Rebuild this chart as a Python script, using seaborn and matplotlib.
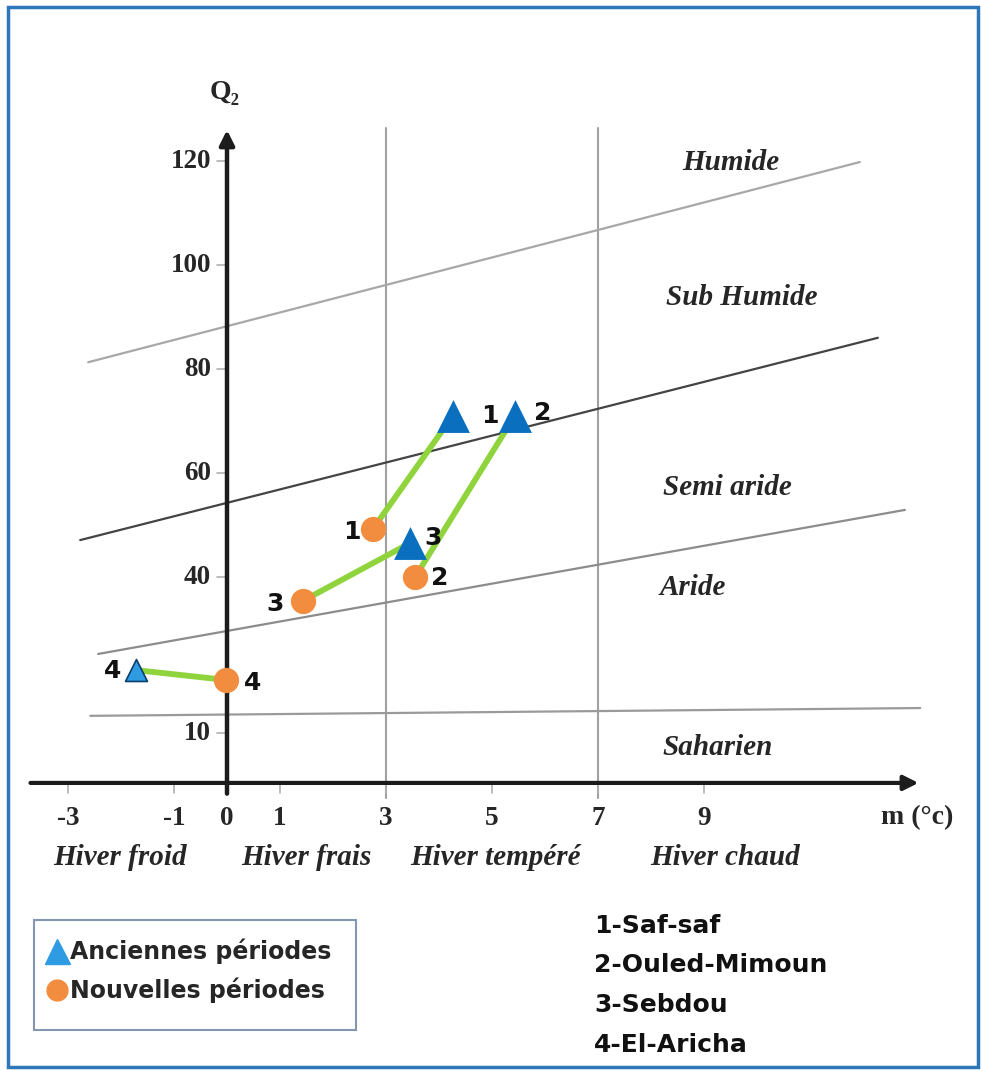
import numpy as np
import pandas as pd
import matplotlib
matplotlib.use("Agg")
import matplotlib.pyplot as plt
import seaborn as sns
from matplotlib.patches import Rectangle
from matplotlib.lines import Line2D

# ---------------- data ----------------
stations = ["1", "2", "3", "4"]
station_names = ["1-Saf-saf", "2-Ouled-Mimoun", "3-Sebdou", "4-El-Aricha"]
old_m = [4.26, 5.43, 3.45, -1.72]      # Anciennes périodes
old_q2 = [71.0, 71.0, 46.5, 22.1]
new_m = [2.75, 3.55, 1.43, -0.02]      # Nouvelles périodes
new_q2 = [49.2, 40.0, 35.4, 20.2]

x_ticks = [-3, -1, 0, 1, 3, 5, 7, 9]
y_ticks = [10, 40, 60, 80, 100, 120]
winter_labels = ["Hiver froid", "Hiver frais", "Hiver tempéré", "Hiver chaud"]
winter_m = [-2.02, 1.49, 5.06, 9.40]
winter_limits = [3, 7]
zone_labels = ["Humide", "Sub Humide", "Semi aride", "Aride", "Saharien"]
zone_m = [9.51, 9.72, 9.45, 8.79, 9.25]
zone_q2 = [119.8, 93.8, 57.3, 37.9, 7.3]
# bioclimatic boundaries: start (m, Q2) -> end (m, Q2)
bound_m0 = [-2.62, -2.77, -2.43, -2.58]
bound_q0 = [81.3, 47.1, 25.2, 13.3]
bound_m1 = [11.94, 12.28, 12.79, 13.08]
bound_q1 = [119.8, 86.0, 52.9, 14.8]

# ---------------- styling ----------------
sns.set_theme(style="white")
plt.rcParams["font.family"] = ["DejaVu Sans"]
SERIF = ["Liberation Serif", "DejaVu Serif"]
BLUE = "#0b6fbf"
LBLUE = "#2f9be3"
ORANGE = "#f28d3f"
GREEN = "#8fd43c"
AX = "#1c1c1c"
TXT = "#262626"

W, H = 982, 1071
fig = plt.figure(figsize=(W / 100, H / 100), dpi=100)
ax = fig.add_axes([0, 0, 1, 1])
ax.set_xlim(-227 / 53, (W - 227) / 53)
ax.set_ylim((785 - H) / 5.2, 785 / 5.2)
ax.axis("off")

# outer blue frame
fig.patches.append(Rectangle((8 / W, 4 / H), 970 / W, 1060 / H, transform=fig.transFigure,
                             fill=False, edgecolor="#2d76b8", linewidth=2.5))

# boundaries between bioclimatic stages
bcol = ["#a8a8a8", "#444444", "#8c8c8c", "#9a9a9a"]
for m0, q0, m1, q1, c in zip(bound_m0, bound_q0, bound_m1, bound_q1, bcol):
    ax.plot([m0, m1], [q0, q1], color=c, lw=1.6, zorder=2)

# winter-type vertical limits
for v in winter_limits:
    ax.plot([v, v], [-2.5, 126.3], color="#a0a0a0", lw=1.5, zorder=1)

# axes with arrows
ax.annotate("", xy=(0, 126.5), xytext=(0, -2.2),
            arrowprops=dict(arrowstyle="-|>", lw=3.2, color=AX, mutation_scale=22), zorder=3)
ax.annotate("", xy=(13.1, 0.4), xytext=(-3.76, 0.4),
            arrowprops=dict(arrowstyle="-|>", lw=3.0, color=AX, mutation_scale=22), zorder=3)

# ticks
for t in x_ticks:
    if t != 0:
        ax.plot([t, t], [0.4, -1.6], color="#b0b0b0", lw=1.2, zorder=2)
    ax.text(t, -6.35, str(t), ha="center", va="center", fontsize=19.5,
            fontweight="bold", family=SERIF, color=TXT)
for t in y_ticks:
    ax.plot([-0.19, 0], [t, t], color="#b0b0b0", lw=1.2, zorder=2)
    ax.text(-0.30, t, str(t), ha="right", va="center", fontsize=19.5,
            fontweight="bold", family=SERIF, color=TXT)

ax.text(13.02, -6.35, "m (°c)", ha="center", va="center", fontsize=20,
        fontweight="bold", family=SERIF, color=TXT)
ax.text(-0.04, 133.1, "Q₂", ha="center", va="center", fontsize=20,
        fontweight="bold", family=SERIF, color=TXT)

for lab, m in zip(winter_labels, winter_m):
    ax.text(m, -13.85, lab, ha="center", va="center", fontsize=21, fontweight="bold",
            style="italic", family=SERIF, color=TXT)
for lab, m, q in zip(zone_labels, zone_m, zone_q2):
    ax.text(m, q, lab, ha="center", va="center", fontsize=21, fontweight="bold",
            style="italic", family=SERIF, color=TXT)

# connecting lines old -> new
links = pd.DataFrame({
    "station": stations * 2,
    "m": old_m + new_m,
    "Q2": old_q2 + new_q2,
})
sns.lineplot(data=links, x="m", y="Q2", units="station", estimator=None, sort=False,
             color=GREEN, lw=4.2, ax=ax, zorder=4, legend=False)

old = pd.DataFrame({"station": stations, "m": old_m, "Q2": old_q2})
new = pd.DataFrame({"station": stations, "m": new_m, "Q2": new_q2})
sns.scatterplot(data=old.iloc[:3], x="m", y="Q2", marker="^", s=560, color=BLUE,
                linewidth=0, ax=ax, zorder=5, legend=False)
sns.scatterplot(data=old.iloc[3:], x="m", y="Q2", marker="^", s=250, color=LBLUE,
                edgecolor="#0d3f6e", linewidth=1.2, ax=ax, zorder=5, legend=False)
sns.scatterplot(data=new, x="m", y="Q2", marker="o", s=330, color=ORANGE,
                linewidth=0, ax=ax, zorder=5, legend=False)

# point labels (offsets in points)
old_off = [(27, 0), (20, 2), (17, 4), (-17, -1)]
new_off = [(-15, -2), (18, -1), (-20, -2), (19, -2)]
for s, m, q, off in zip(stations, old_m, old_q2, old_off):
    ax.annotate(s, (m, q), xytext=off, textcoords="offset points", ha="center",
                va="center", fontsize=18, fontweight="bold", color="#111111", zorder=6)
for s, m, q, off in zip(stations, new_m, new_q2, new_off):
    ax.annotate(s, (m, q), xytext=off, textcoords="offset points", ha="center",
                va="center", fontsize=18, fontweight="bold", color="#111111", zorder=6)

# legend box
fig.patches.append(Rectangle((34 / W, 1 - 1030 / H), 322 / W, 110 / H, transform=fig.transFigure,
                             fill=False, edgecolor="#8497b0", linewidth=1.5))
handles = [Line2D([], [], marker="^", ls="none", color=LBLUE, markersize=18),
           Line2D([], [], marker="o", ls="none", color=ORANGE, markersize=15)]
fig.legend(handles, ["Anciennes périodes", "Nouvelles périodes"], loc="upper left",
           bbox_to_anchor=(44 / W, 1 - 939 / H), frameon=False,
           prop=dict(weight="bold", size=17),
           handletextpad=0.0, handlelength=1.1, labelspacing=0.55, borderpad=0,
           borderaxespad=0)

# station list
for i, name in enumerate(station_names):
    fig.text(594 / W, 1 - (926 + 39.5 * i) / H, name, ha="left", va="center",
             fontsize=18, fontweight="bold", color="#111111")

fig.savefig("out.png", dpi=100, facecolor="white")
